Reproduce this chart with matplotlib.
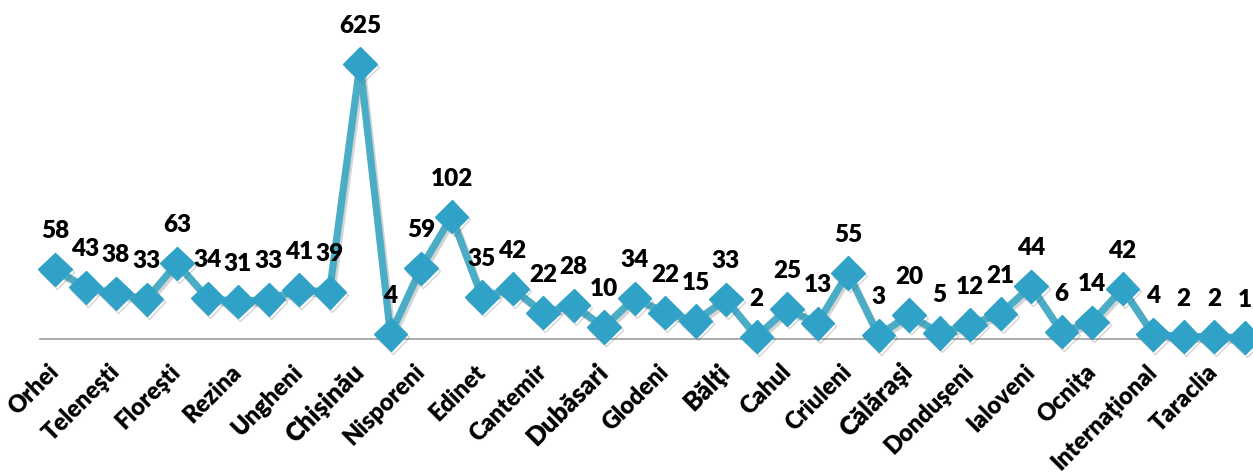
import matplotlib

matplotlib.use("Agg")
import matplotlib.pyplot as plt
import matplotlib.patheffects as pe
import numpy as np

# values per district, in order along the axis
values = [58, 43, 38, 33, 63, 34, 31, 33, 41, 39,
          625, 4, 59, 102, 35, 42, 22, 28, 10, 34,
          22, 15, 33, 2, 25, 13, 55, 3, 20, 5,
          12, 21, 44, 6, 14, 42, 4, 2, 2, 1]

# every second category carries a label
tick_labels = ["Orhei", "Teleneşti", "Floreşti", "Rezina", "Ungheni",
               "Chişinău", "Nisporeni", "Edinet", "Cantemir", "Dubăsari",
               "Glodeni", "Bălţi", "Cahul", "Criuleni", "Călăraşi",
               "Donduşeni", "Ialoveni", "Ocniţa", "Internaţional", "Taraclia"]

LINE = "#4bacc6"
MARK = "#31a2c7"

# linear up to a knee, compressed above it so the tall peak stays on the canvas
KNEE = 110.0
SLOPE = 0.2314


def fwd(v):
    v = np.asarray(v, dtype=float)
    return np.where(v <= KNEE, v, KNEE + (v - KNEE) * SLOPE)


def inv(u):
    u = np.asarray(u, dtype=float)
    return np.where(u <= KNEE, u, KNEE + (u - KNEE) / SLOPE)


W, H = 1253, 474
fig = plt.figure(figsize=(W / 100, H / 100), dpi=100)
plt.rcParams["font.family"] = ["Lato", "DejaVu Sans"]

# axis spans from x=40px; baseline sits 135px above the bottom
left_px, base_px, step_px = 39.75, 135.0, 30.5
n = len(values)
ax = fig.add_axes([left_px / W, base_px / H, step_px * n / W, (H - base_px) / H])

xs = list(range(n))
ax.plot(xs, values, color=LINE, linewidth=5.2, solid_joinstyle="miter",
        marker="D", markersize=17, markerfacecolor=MARK, markeredgecolor=MARK,
        clip_on=False, zorder=3,
        path_effects=[pe.SimpleLineShadow(offset=(1.5, -2), shadow_color="#555555", alpha=0.25),
                      pe.Normal()])

ax.set_yscale("function", functions=(fwd, inv))
ax.set_xlim(-0.5, n - 0.5)
ax.set_ylim(0, float(inv((H - base_px) / 1.2)))

for x, v in zip(xs, values):
    ax.annotate(str(v), (x, v), xytext=(0, 38), textcoords="offset pixels",
                ha="center", va="center", fontsize=17.5, fontweight="heavy",
                color="black", annotation_clip=False)

for side in ("top", "right", "left"):
    ax.spines[side].set_visible(False)
ax.spines["bottom"].set_color("#a6a6a6")
ax.spines["bottom"].set_linewidth(1.3)
ax.set_yticks([])

big = {"Chişinău", "Dubăsari", "Bălţi", "Călăraşi"}
ax.set_xticks(xs[::2])
ax.set_xticklabels(tick_labels)
ax.tick_params(axis="x", length=0, pad=21)
for lab in ax.get_xticklabels():
    lab.set_rotation(45)
    lab.set_ha("right")
    lab.set_va("center")
    lab.set_rotation_mode("anchor")
    lab.set_fontweight("heavy")
    lab.set_fontsize(18.5 if lab.get_text() in big else 17)

fig.savefig("out.png", dpi=100)
